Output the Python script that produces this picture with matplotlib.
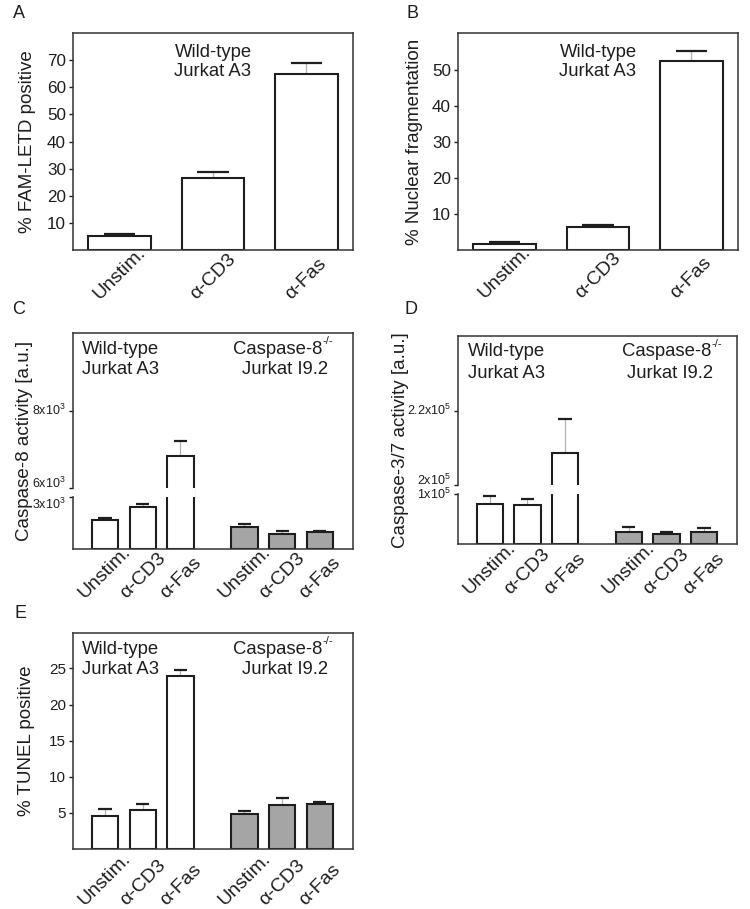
import numpy as np
import matplotlib
matplotlib.use("Agg")
import matplotlib.pyplot as plt
import matplotlib.transforms as mtransforms

plt.rcParams['font.family'] = ['Liberation Sans', 'DejaVu Sans']
plt.rcParams['mathtext.default'] = 'regular'

# ---- data ----
treat = ["Unstim.", "α-CD3", "α-Fas"]

famletd_mean = [5.2, 26.5, 64.8]
famletd_err = [0.7, 2.1, 4.3]

nucfrag_mean = [1.6, 6.4, 52.4]
nucfrag_err = [0.6, 0.6, 2.9]

casp8_wt = [1670, 2440, 6830]
casp8_wt_err = [120, 170, 390]
casp8_ko = [1290, 870, 980]
casp8_ko_err = [170, 190, 80]

casp37_wt = [0.81e5, 0.78e5, 2.086e5]
casp37_wt_err = [0.15e5, 0.12e5, 0.092e5]
casp37_ko = [0.24e5, 0.206e5, 0.234e5]
casp37_ko_err = [0.10e5, 0.03e5, 0.08e5]

tunel_wt = [4.63, 5.46, 24.0]
tunel_wt_err = [0.92, 0.74, 0.8]
tunel_ko = [4.82, 6.1, 6.24]
tunel_ko_err = [0.46, 0.93, 0.33]

W, H = 750, 909
fig = plt.figure(figsize=(W / 100, H / 100), dpi=100)
ink = '#1e1e1e'
grey_fill = '#a5a5a5'


def px_axes(x0, y0, x1, y1):
    return fig.add_axes([x0 / W, 1 - y1 / H, (x1 - x0) / W, (y1 - y0) / H])


def draw_bars(ax, x, vals, errs, width, fill):
    x = np.asarray(x, dtype=float)
    vals = np.asarray(vals, dtype=float)
    errs = np.asarray(errs, dtype=float)
    ax.bar(x, vals, width, color=fill, edgecolor=ink, linewidth=1.5, zorder=2)
    ax.vlines(x, vals, vals + errs, color='#b0b0b0', linewidth=0.9, zorder=1)
    ax.hlines(vals + errs, x - width / 4, x + width / 4, color=ink, linewidth=1.6, zorder=2)


def style(ax, tick_size):
    for s in ax.spines.values():
        s.set_linewidth(1.1)
        s.set_color('#333333')
    ax.tick_params(axis='y', direction='out', length=3, width=1, labelsize=tick_size,
                   colors=ink, pad=2)
    ax.tick_params(axis='x', length=0, labelbottom=False)


def ylab(ax, text, xpx):
    ax.set_ylabel(text, fontsize=13.5, color=ink)
    bb = ax.get_position()
    ax.yaxis.set_label_coords((xpx - bb.x0 * W) / (bb.width * W), 0.5)


def xlabels(ax, x, labels, drop=53):
    trans = mtransforms.offset_copy(ax.get_xaxis_transform(), fig=fig, y=-drop, units='dots')
    for xi, lab in zip(x, labels):
        ax.text(xi, 0, lab, transform=trans, rotation=45, ha='center', va='bottom',
                fontsize=14, color=ink)


def letter(x, y, s):
    fig.text(x / W, 1 - y / H, s, fontsize=13, color=ink, ha='center', va='center')


def broken_scale(ax, data_bp, px_bp):
    ax.set_yscale('function', functions=(lambda v: np.interp(v, data_bp, px_bp),
                                         lambda p: np.interp(p, px_bp, data_bp)))
    ax.spines['left'].set_visible(False)
    tr = ax.get_yaxis_transform()
    ax.plot([0, 0], [data_bp[0], data_bp[1]], transform=tr, clip_on=False, color='#333333', lw=1.1)
    ax.plot([0, 0], [data_bp[2], data_bp[3]], transform=tr, clip_on=False, color='#333333', lw=1.1)


x3 = [0, 1, 2]
x6 = [0, 1, 2, 3.7, 4.7, 5.7]

# ---- A ----
axA = px_axes(73, 33, 353, 250)
draw_bars(axA, x3, famletd_mean, famletd_err, 0.67, 'white')
axA.set_xlim(-0.5, 2.5)
axA.set_ylim(0, 80)
axA.set_yticks([10, 20, 30, 40, 50, 60, 70])
style(axA, 12.3)
ylab(axA, '% FAM-LETD positive', 36)
axA.text(1.0, 0.866, 'Wild-type\nJurkat A3', transform=axA.get_xaxis_transform(),
         ha='center', va='center', fontsize=13.3, color=ink, linespacing=1.1)
xlabels(axA, x3, treat)
letter(19, 13, 'A')

# ---- B ----
axB = px_axes(458, 33, 738, 250)
draw_bars(axB, x3, nucfrag_mean, nucfrag_err, 0.67, 'white')
axB.set_xlim(-0.5, 2.5)
axB.set_ylim(0, 60.3)
axB.set_yticks([10, 20, 30, 40, 50])
style(axB, 12.3)
ylab(axB, '% Nuclear fragmentation', 423)
axB.text(1.0, 0.866, 'Wild-type\nJurkat A3', transform=axB.get_xaxis_transform(),
         ha='center', va='center', fontsize=13.3, color=ink, linespacing=1.1)
xlabels(axB, x3, treat, drop=52)
letter(413, 13, 'B')

# ---- C ----
axC = px_axes(73, 333, 353, 549)
broken_scale(axC, [0, 3000, 6000, 10000], [0, 52, 61, 216])
draw_bars(axC, x6[:3], casp8_wt, casp8_wt_err, 0.7, 'white')
draw_bars(axC, x6[3:], casp8_ko, casp8_ko_err, 0.7, grey_fill)
axC.bar(x6[2], 3000, 0.8, bottom=3000, color='white', zorder=3)
axC.set_xlim(-0.85, 6.58)
axC.set_ylim(0, 10000)
axC.set_yticks([3000, 6000, 8000])
axC.set_yticklabels(['3x10$^{3}$', '6x10$^{3}$', '8x10$^{3}$'])
style(axC, 9)
for lab, va in zip(axC.get_yticklabels(), ['top', 'baseline', 'center']):
    lab.set_va(va)
ylab(axC, 'Caspase-8 activity [a.u.]', 33)
letter(19, 310, 'C')

# ---- D ----
axD = px_axes(458, 336, 737, 544)
broken_scale(axD, [0, 1e5, 2e5, 2.4e5], [0, 50, 59, 208])
draw_bars(axD, x6[:3], casp37_wt, casp37_wt_err, 0.7, 'white')
draw_bars(axD, x6[3:], casp37_ko, casp37_ko_err, 0.7, grey_fill)
axD.bar(x6[2], 1e5, 0.8, bottom=1e5, color='white', zorder=3)
axD.set_xlim(-0.85, 6.58)
axD.set_ylim(0, 2.4e5)
axD.set_yticks([1e5, 2e5, 2.2e5])
axD.set_yticklabels(['1x10$^{5}$', '2x10$^{5}$', '2.2x10$^{5}$'])
style(axD, 9)
for lab, va in zip(axD.get_yticklabels(), ['center', 'baseline', 'center']):
    lab.set_va(va)
ylab(axD, 'Caspase-3/7 activity [a.u.]', 409)
letter(411, 310, 'D')

# ---- E ----
axE = px_axes(73, 633, 353, 849)
draw_bars(axE, x6[:3], tunel_wt, tunel_wt_err, 0.7, 'white')
draw_bars(axE, x6[3:], tunel_ko, tunel_ko_err, 0.7, grey_fill)
axE.set_xlim(-0.85, 6.58)
axE.set_ylim(0, 29.9)
axE.set_yticks([5, 10, 15, 20, 25])
style(axE, 11)
ylab(axE, '% TUNEL positive', 35)
letter(20, 613, 'E')

# group captions in C, D, E
for ax, wt_left, ko1, ko2 in [(axC, 82, 233, 242), (axD, 468, 622, 627), (axE, 82, 233, 242)]:
    bb = ax.get_position()
    x0px = bb.x0 * W
    wpx = bb.width * W
    yl1 = 1 - 16 / (bb.height * H)
    yl2 = 1 - 37 / (bb.height * H)
    ax.text((wt_left - x0px) / wpx, yl1, 'Wild-type', transform=ax.transAxes,
            ha='left', va='center', fontsize=13.3, color=ink)
    ax.text((wt_left - x0px) / wpx, yl2, 'Jurkat A3', transform=ax.transAxes,
            ha='left', va='center', fontsize=13.3, color=ink)
    t = ax.text((ko1 - x0px) / wpx, yl1, 'Caspase-8', transform=ax.transAxes,
                ha='left', va='center', fontsize=13.3, color=ink)
    ax.annotate('-/-', xy=(1.0, 0.95), xycoords=t, ha='left', va='center',
                fontsize=8, color=ink)
    ax.text((ko2 - x0px) / wpx, yl2, 'Jurkat I9.2', transform=ax.transAxes,
            ha='left', va='center', fontsize=13.3, color=ink)

xlabels(axC, x6, treat * 2, drop=53)
xlabels(axD, x6, treat * 2, drop=54)
xlabels(axE, x6, treat * 2, drop=60)

fig.savefig('out.png', dpi=100)
